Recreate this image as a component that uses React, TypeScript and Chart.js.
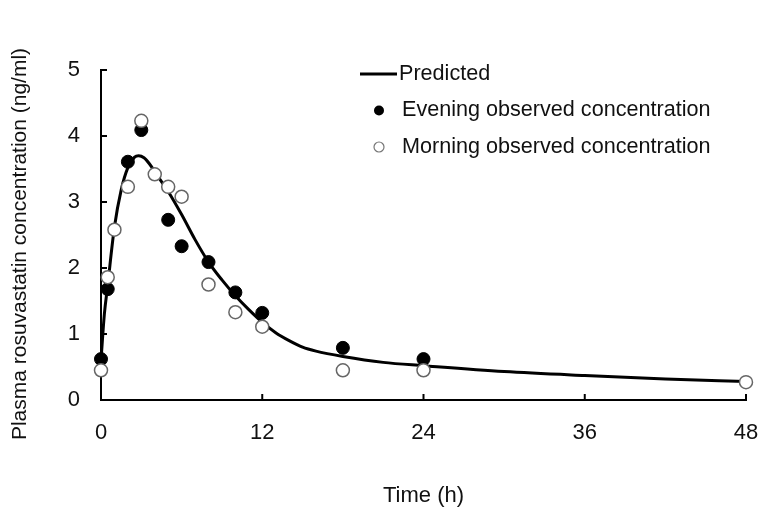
import React, { useEffect, useRef } from "react";
import { Chart, registerables } from "chart.js";

Chart.register(...registerables);

// ---- data ----
const predTime = [0, 0.25, 0.5, 1, 1.5, 2, 2.5, 2.8, 3.2, 3.6, 4, 4.5, 5, 6, 7, 8, 9, 10, 11, 12, 13, 14, 15, 16, 18, 21, 24, 30, 36, 42, 48];
const predConc = [0.6, 1.3, 1.74, 2.62, 3.18, 3.52, 3.68, 3.7, 3.67, 3.58, 3.46, 3.31, 3.16, 2.81, 2.43, 2.09, 1.82, 1.58, 1.37, 1.18, 1.02, 0.9, 0.8, 0.74, 0.66, 0.57, 0.52, 0.43, 0.37, 0.32, 0.28];

const eveningTime = [0, 0.5, 2, 3, 5, 6, 8, 10, 12, 18, 24];
const eveningConc = [0.62, 1.68, 3.61, 4.09, 2.73, 2.33, 2.09, 1.63, 1.32, 0.79, 0.62];

const morningTime = [0, 0.5, 1, 2, 3, 4, 5, 6, 8, 10, 12, 18, 24, 48];
const morningConc = [0.45, 1.86, 2.58, 3.23, 4.23, 3.42, 3.23, 3.08, 1.75, 1.33, 1.11, 0.45, 0.45, 0.27];

const xTickStep = 12;
const xMin = 0;
const xMax = 48;
const yTickStep = 1;
const yMin = 0;
const yMax = 5;

const xTitle = "Time (h)";
const yTitle = "Plasma rosuvastatin concentration (ng/ml)";
const legendLabels = ["Predicted", "Evening observed concentration", "Morning observed concentration"];

const FONT = "'Liberation Sans', Arial, sans-serif";
const TEXT = "#111";

const toXY = (xs: number[], ys: number[]) => xs.map((x, i) => ({ x, y: ys[i] }));

const decorPlugin = {
  id: "decor",
  afterDraw(chart: any) {
    const { ctx, chartArea, scales } = chart;
    ctx.save();
    // inward tick marks
    ctx.strokeStyle = "#000";
    ctx.lineWidth = 2;
    const tl = 6;
    scales.x.ticks.forEach((t: any) => {
      if (t.value === xMin) return;
      const px = scales.x.getPixelForValue(t.value);
      ctx.beginPath();
      ctx.moveTo(px, chartArea.bottom);
      ctx.lineTo(px, chartArea.bottom - tl);
      ctx.stroke();
    });
    scales.y.ticks.forEach((t: any) => {
      if (t.value === yMin) return;
      const py = scales.y.getPixelForValue(t.value);
      ctx.beginPath();
      ctx.moveTo(chartArea.left, py);
      ctx.lineTo(chartArea.left + tl, py);
      ctx.stroke();
    });

    // y axis title
    ctx.save();
    ctx.translate(20, 244);
    ctx.rotate(-Math.PI / 2);
    ctx.font = `21px ${FONT}`;
    ctx.fillStyle = TEXT;
    ctx.textAlign = "center";
    ctx.textBaseline = "middle";
    ctx.fillText(yTitle, 0, 0);
    ctx.restore();

    // legend
    ctx.font = `21.6px ${FONT}`;
    ctx.fillStyle = TEXT;
    ctx.textBaseline = "middle";
    ctx.textAlign = "left";
    // predicted
    ctx.strokeStyle = "#000";
    ctx.lineWidth = 3;
    ctx.beginPath();
    ctx.moveTo(360, 74);
    ctx.lineTo(397, 74);
    ctx.stroke();
    ctx.fillText(legendLabels[0], 399, 74);
    // evening
    ctx.beginPath();
    ctx.arc(379, 110.5, 5, 0, Math.PI * 2);
    ctx.fillStyle = "#000";
    ctx.fill();
    ctx.fillStyle = TEXT;
    ctx.fillText(legendLabels[1], 402, 110.5);
    // morning
    ctx.beginPath();
    ctx.arc(379, 147, 5, 0, Math.PI * 2);
    ctx.fillStyle = "#fff";
    ctx.fill();
    ctx.strokeStyle = "#777";
    ctx.lineWidth = 1.2;
    ctx.stroke();
    ctx.fillStyle = TEXT;
    ctx.fillText(legendLabels[2], 402, 147);
    ctx.restore();
  },
};

export default function App() {
  const ref = useRef<HTMLCanvasElement | null>(null);

  useEffect(() => {
    if (!ref.current) return;
    const chart = new Chart(ref.current, {
      type: "scatter",
      data: {
        datasets: [
          {
            label: legendLabels[2],
            data: toXY(morningTime, morningConc),
            pointRadius: 6.5,
            pointBackgroundColor: "#fff",
            pointBorderColor: "#666",
            pointBorderWidth: 1.5,
            showLine: false,
            clip: false,
          } as any,
          {
            label: legendLabels[1],
            data: toXY(eveningTime, eveningConc),
            pointRadius: 6.5,
            pointBackgroundColor: "#000",
            pointBorderColor: "#000",
            pointBorderWidth: 1,
            showLine: false,
            clip: false,
          } as any,
          {
            label: legendLabels[0],
            data: toXY(predTime, predConc),
            showLine: true,
            pointRadius: 0,
            borderColor: "#000",
            borderWidth: 3,
            cubicInterpolationMode: "monotone",
            fill: false,
            clip: false,
          } as any,
        ],
      },
      options: {
        responsive: false,
        animation: false,
        devicePixelRatio: 1,
        layout: { padding: { left: 0, top: 70, right: 17, bottom: 0 } },
        plugins: {
          legend: { display: false },
          tooltip: { enabled: false },
        },
        scales: {
          x: {
            type: "linear",
            min: xMin,
            max: xMax,
            afterFit: (s: any) => {
              s.height = 114;
              s.paddingLeft = 0;
              s.paddingRight = 0;
            },
            ticks: {
              stepSize: xTickStep,
              padding: 20,
              color: TEXT,
              font: { family: FONT, size: 22 },
            },
            grid: { display: false, drawTicks: false },
            border: { display: true, color: "#000", width: 2 },
            title: {
              display: true,
              text: xTitle,
              color: TEXT,
              font: { family: FONT, size: 22 },
              padding: { top: 0, bottom: 5 },
            },
          },
          y: {
            type: "linear",
            min: yMin,
            max: yMax,
            afterFit: (s: any) => {
              s.width = 101;
              s.paddingTop = 0;
              s.paddingBottom = 0;
            },
            ticks: {
              stepSize: yTickStep,
              padding: 21,
              color: TEXT,
              font: { family: FONT, size: 22 },
            },
            grid: { display: false, drawTicks: false },
            border: { display: true, color: "#000", width: 2 },
            title: { display: false },
          },
        },
      },
      plugins: [decorPlugin],
    });
    return () => chart.destroy();
  }, []);

  return (
    <div style={{ position: "absolute", left: 0, top: 0, width: 763, height: 514, background: "#fff" }}>
      <canvas ref={ref} width={763} height={514} style={{ width: 763, height: 514, display: "block" }} />
    </div>
  );
}
